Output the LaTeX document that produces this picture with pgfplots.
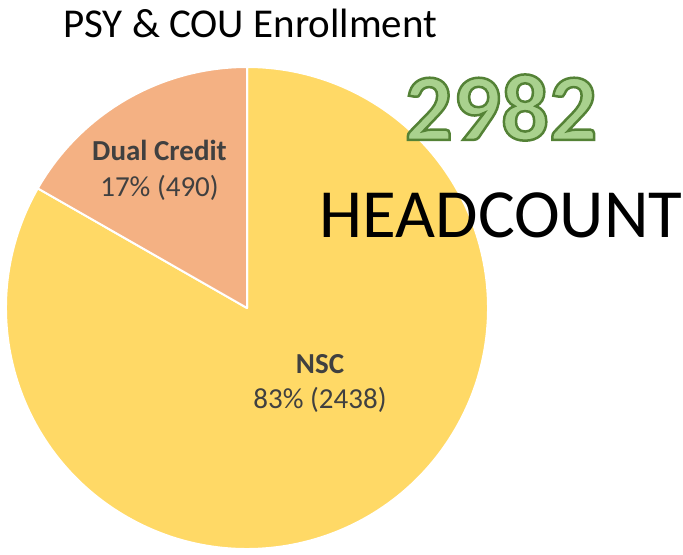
\documentclass[border=0pt]{standalone}
\usepackage{pgfplots}
\pgfplotsset{compat=1.18}
\usepackage{pgfplotstable}
\usepackage{fontspec}
\setmainfont{Carlito}
\definecolor{nscyellow}{HTML}{FFD966}
\definecolor{dualorange}{HTML}{F4B183}
\definecolor{labelgray}{HTML}{404040}
\definecolor{hcgreen}{HTML}{A9D18E}
\pgfplotstableread{
name value
Dual 490
NSC 2438
}\enroll
\begin{document}%
\begin{tikzpicture}
\pgfplotstablegetelem{0}{value}\of\enroll \let\vDual\pgfplotsretval
\pgfplotstablegetelem{1}{value}\of\enroll \let\vNSC\pgfplotsretval
\pgfmathsetmacro{\fracDual}{\vDual/(\vDual+\vNSC)}
\pgfmathsetmacro{\endDual}{90+360*\fracDual}
\begin{axis}[hide axis, scale only axis, width=683bp, height=555bp,
  xmin=0, xmax=683, ymin=0, ymax=555, clip=false]
% NSC slice
\filldraw[fill=nscyellow, draw=white, line width=2bp, line join=round]
  (axis cs:247,247) -- ++(\endDual:241bp) arc[start angle=\endDual, end angle=450, radius=241bp] -- cycle;
% Dual credit slice
\filldraw[fill=dualorange, draw=white, line width=2bp, line join=round]
  (axis cs:247,247) -- ++(90:241bp) arc[start angle=90, end angle=\endDual, radius=241bp] -- cycle;
% labels
\node[anchor=base, inner sep=0, text=labelgray, font=\fontsize{29bp}{32bp}\selectfont\bfseries] at (axis cs:159.5,394) {Dual Credit};
\node[anchor=base, inner sep=0, text=labelgray, font=\fontsize{29bp}{32bp}\selectfont] at (axis cs:159.5,358) {17\% (490)};
\node[anchor=base, inner sep=0, text=labelgray, font=\fontsize{29bp}{32bp}\selectfont\bfseries] at (axis cs:320,181) {NSC};
\node[anchor=base, inner sep=0, text=labelgray, font=\fontsize{29bp}{32bp}\selectfont] at (axis cs:320,146) {83\% (2438)};
% title
\node[anchor=base west, inner sep=0, font=\fontsize{41bp}{45bp}\selectfont] at (axis cs:63,517) {PSY \& COU Enrollment};
% headcount
\node[anchor=base, inner sep=0, font=\fontsize{95bp}{100bp}\selectfont\bfseries] at (axis cs:501,415)
  {\color{hcgreen}\special{pdf:literal direct 2 Tr 0.33 0.51 0.21 RG 2.5 w}2982\special{pdf:literal direct 0 Tr}};
\node[anchor=base, inner sep=0, font=\fontsize{69bp}{72bp}\selectfont] at (axis cs:501,317) {HEADCOUNT};
\end{axis}
\pgfresetboundingbox
\path[use as bounding box] (current axis.south west) rectangle (current axis.north east);
\end{tikzpicture}%
\end{document}
